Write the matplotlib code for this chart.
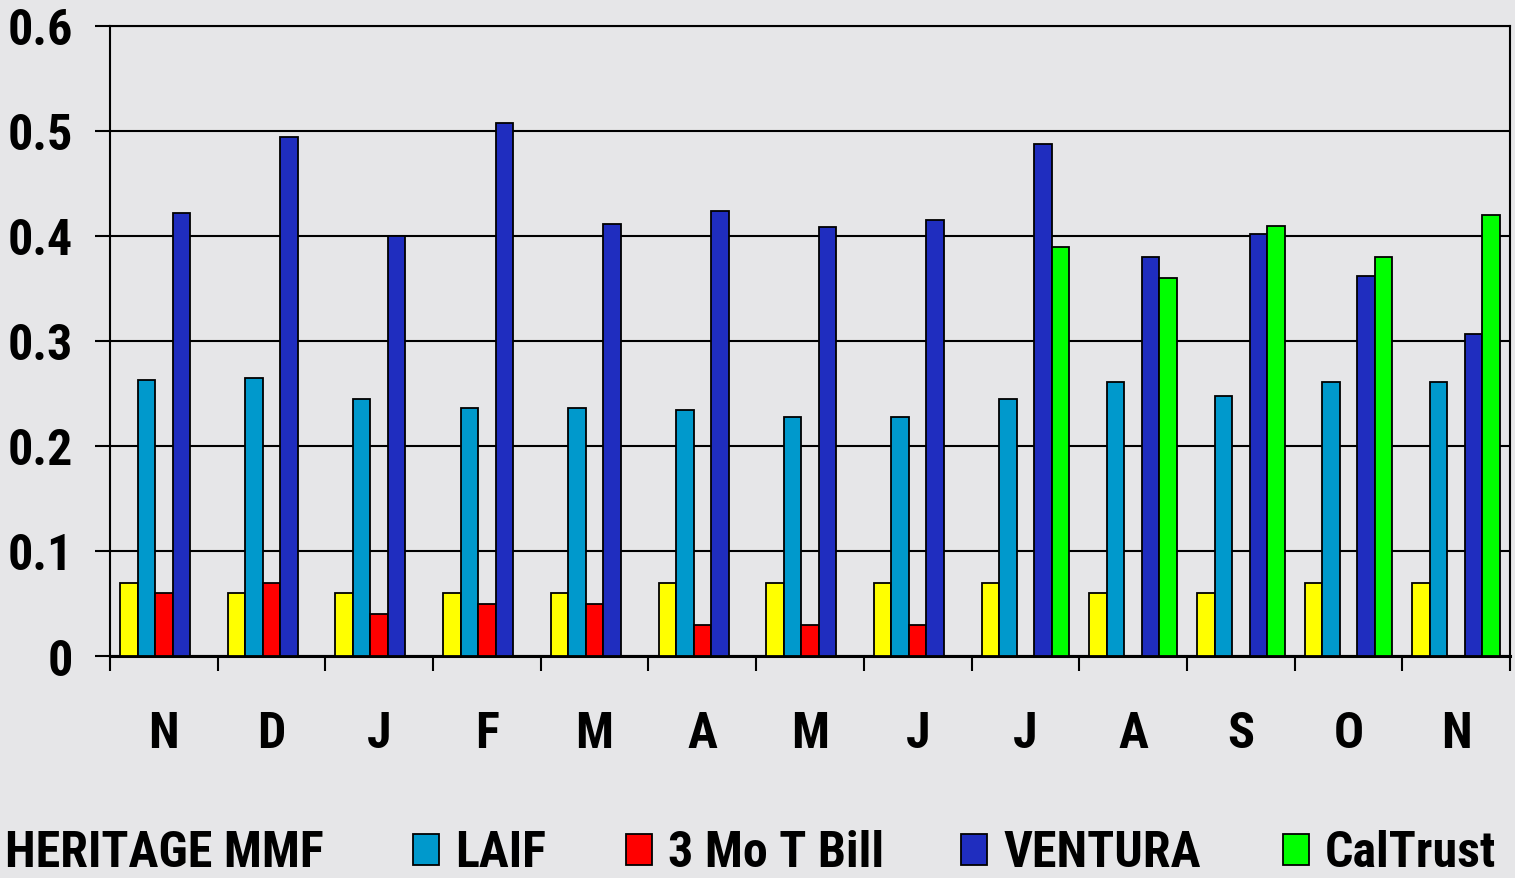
import numpy as np
import matplotlib
matplotlib.use("Agg")
import matplotlib.pyplot as plt
from matplotlib import font_manager
from matplotlib.patches import Rectangle

nan = np.nan
months = ["N", "D", "J", "F", "M", "A", "M", "J", "J", "A", "S", "O", "N"]
heritage = [0.07, 0.06, 0.06, 0.06, 0.06, 0.07, 0.07, 0.07, 0.07, 0.06, 0.06, 0.07, 0.07]
laif = [0.263, 0.265, 0.245, 0.236, 0.236, 0.234, 0.228, 0.228, 0.245, 0.261, 0.248, 0.261, 0.261]
tbill = [0.06, 0.07, 0.04, 0.05, 0.05, 0.03, 0.03, 0.03, nan, nan, nan, nan, nan]
ventura = [0.422, 0.494, 0.40, 0.508, 0.411, 0.424, 0.409, 0.415, 0.488, 0.38, 0.402, 0.362, 0.307]
caltrust = [nan, nan, nan, nan, nan, nan, nan, nan, 0.39, 0.36, 0.41, 0.38, 0.42]

series = [
    ("HERITAGE MMF", heritage, "#ffff00"),
    ("LAIF", laif, "#0099cc"),
    ("3 Mo T Bill", tbill, "#ff0000"),
    ("VENTURA", ventura, "#1f2dbf"),
    ("CalTrust", caltrust, "#00ff00"),
]

# the original uses a narrow bold face; take one if it exists, else shrink Liberation Sans
names = {f.name for f in font_manager.fontManager.ttflist}
narrow = [n for n in ["Liberation Sans Narrow", "Arial Narrow", "Roboto Condensed"] if n in names]
if narrow:
    font, tick_size, legend_size = narrow[0], 36, 36
else:
    font, tick_size, legend_size = "Liberation Sans", 31, 30
plt.rcParams["font.family"] = [font, "DejaVu Sans"]
plt.rcParams["font.weight"] = "bold"

bg = "#e6e6e8"
fig = plt.figure(figsize=(15.15, 8.79), dpi=100, facecolor=bg)
ax = fig.add_axes([110 / 1515, 222 / 879, 1400 / 1515, 630 / 879])
ax.set_facecolor(bg)

x = np.arange(len(months))
width = 0.1625
for i, (label, vals, color) in enumerate(series):
    ax.bar(x + (i - 2) * width, vals, width, color=color, edgecolor="black",
           linewidth=1.3, zorder=3)

ax.set_xlim(-0.5, len(months) - 0.5)
ax.set_ylim(0, 0.6)
ax.set_yticks([0, 0.1, 0.2, 0.3, 0.4, 0.5, 0.6])
ax.set_yticklabels(["0", "0.1", "0.2", "0.3", "0.4", "0.5", "0.6"])
ax.yaxis.grid(True, color="black", linewidth=1.5, zorder=1)
ax.set_axisbelow(True)

ax.set_xticks(x)
ax.set_xticklabels(months)
ax.set_xticks(np.arange(len(months) + 1) - 0.5, minor=True)
ax.tick_params(axis="x", which="major", length=0, pad=39, labelsize=tick_size)
ax.tick_params(axis="x", which="minor", length=11, width=1.5, direction="out")
ax.tick_params(axis="y", length=11, width=1.5, direction="out", pad=16, labelsize=tick_size)
for side in ["left", "right", "top"]:
    ax.spines[side].set_linewidth(1.5)
ax.spines["bottom"].set_linewidth(2.2)

# legend drawn by hand along the bottom edge
text_x = [5, 455, 668, 1003, 1325]
for (label, _, color), tx in zip(series, text_x):
    if tx > 100:
        fig.patches.append(Rectangle(((tx - 42) / 1515, 13 / 879), 26 / 1515, 31 / 879,
                                     transform=fig.transFigure, facecolor=color,
                                     edgecolor="black", linewidth=1.3))
    fig.text(tx / 1515, 2 / 879, label, fontsize=legend_size, fontweight="bold",
             va="bottom", ha="left")

fig.savefig("out.png", dpi=100, facecolor=bg)
